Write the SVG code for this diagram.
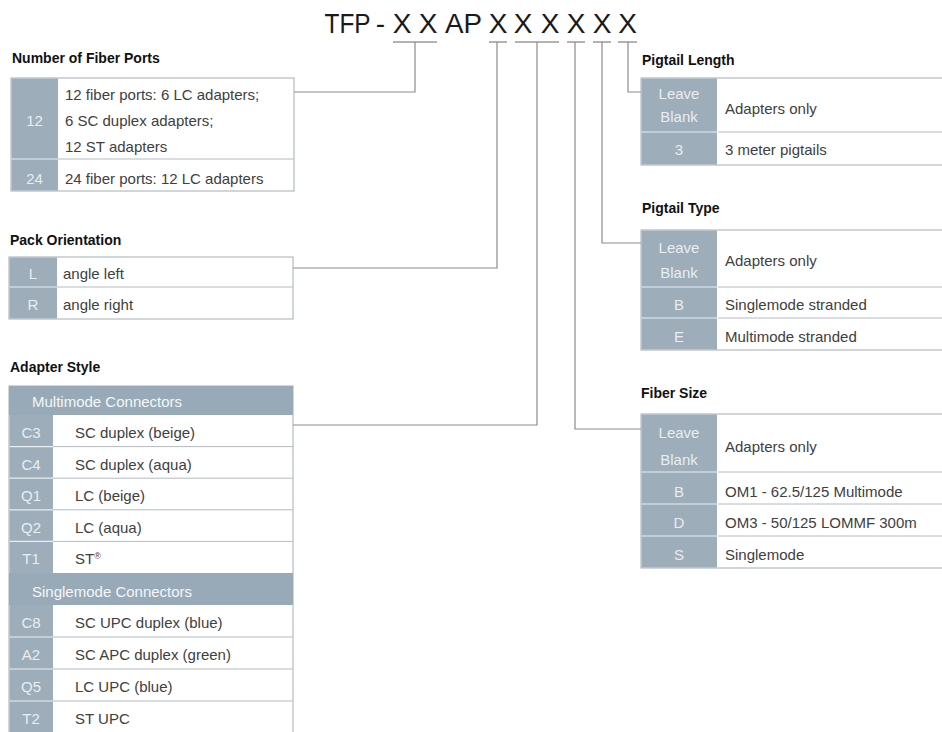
<svg xmlns="http://www.w3.org/2000/svg" width="942" height="732" viewBox="0 0 942 732">
<style>
text{font-family:"Liberation Sans",Arial,sans-serif}
.title{font-size:28px;fill:#1a1a1a;text-anchor:middle}
.h{font-size:14px;font-weight:bold;fill:#111}
.t{font-size:15px;fill:#404040}
.c{font-size:15px;fill:#e8eef2;text-anchor:middle}
.hd{font-size:15px;fill:#f4f7f9}
.box{fill:#fff;stroke:#a3adb5;stroke-width:1}
.code{fill:#9dadb9}
.hdr{fill:#98aab7}
.sepg{stroke:#b3bcc3;stroke-width:1}
.sepw{stroke:#e9eef1;stroke-width:1.2}
.con{fill:none;stroke:#8c8c8c;stroke-width:1.2}
.ul{stroke:#9a9a9a;stroke-width:1.5}
</style>

<g id="part-number">
<text class="title" x="347.5" y="33" textLength="46" lengthAdjust="spacingAndGlyphs">TFP</text>
<text class="title" x="380.5" y="33">-</text>
<text class="title" x="402" y="33">X</text>
<text class="title" x="428" y="33">X</text>
<text class="title" x="463.5" y="33" textLength="37" lengthAdjust="spacingAndGlyphs">AP</text>
<text class="title" x="498" y="33">X</text>
<text class="title" x="523" y="33">X</text>
<text class="title" x="550" y="33">X</text>
<text class="title" x="576" y="33">X</text>
<text class="title" x="602" y="33">X</text>
<text class="title" x="627.5" y="33">X</text>
<line class="ul" x1="393" y1="42" x2="437" y2="42"/>
<line class="ul" x1="489" y1="42" x2="507" y2="42"/>
<line class="ul" x1="515" y1="42" x2="559" y2="42"/>
<line class="ul" x1="567" y1="42" x2="585" y2="42"/>
<line class="ul" x1="593" y1="42" x2="611" y2="42"/>
<line class="ul" x1="618" y1="42" x2="637" y2="42"/>
</g>

<g id="connectors">
<polyline class="con" points="294,92 415,92 415,42"/>
<polyline class="con" points="293,268 497,268 497,42"/>
<polyline class="con" points="293,425 537,425 537,42"/>
<polyline class="con" points="575,42 575,429 641,429"/>
<polyline class="con" points="602,42 602,243 641,243"/>
<polyline class="con" points="628,42 628,92 641,92"/>
</g>

<g id="fiber-ports">
<text class="h" x="12" y="63">Number of Fiber Ports</text>
<rect class="box" x="11" y="78" width="283" height="113"/>
<rect class="code" x="11.5" y="78.5" width="46.5" height="112"/>
<line class="sepg" x1="58" y1="159" x2="294" y2="159"/>
<line class="sepw" x1="11.5" y1="159" x2="58" y2="159"/>
<text class="c" x="34.5" y="126">12</text>
<text class="t" x="65" y="100">12 fiber ports: 6 LC adapters;</text>
<text class="t" x="65" y="126">6 SC duplex adapters;</text>
<text class="t" x="65" y="152">12 ST adapters</text>
<text class="c" x="34.5" y="184">24</text>
<text class="t" x="65" y="184">24 fiber ports: 12 LC adapters</text>
</g>

<g id="pack-orientation">
<text class="h" x="10" y="245">Pack Orientation</text>
<rect class="box" x="9" y="257" width="284" height="62"/>
<rect class="code" x="9.5" y="257.5" width="47.5" height="61"/>
<line class="sepg" x1="57" y1="287" x2="293" y2="287"/>
<line class="sepw" x1="9.5" y1="287" x2="57" y2="287"/>
<text class="c" x="33" y="279">L</text>
<text class="t" x="63" y="279">angle left</text>
<text class="c" x="33" y="310">R</text>
<text class="t" x="63" y="310">angle right</text>
</g>

<g id="adapter-style">
<text class="h" x="10" y="372">Adapter Style</text>
<rect class="box" x="9" y="386" width="284" height="360"/>
<rect class="hdr" x="9" y="386" width="284" height="29"/>
<text class="hd" x="32" y="407">Multimode Connectors</text>
<rect class="code" x="9.5" y="415" width="43.5" height="158"/>
<line class="sepg" x1="53" y1="446.6" x2="293" y2="446.6"/>
<line class="sepg" x1="53" y1="478.2" x2="293" y2="478.2"/>
<line class="sepg" x1="53" y1="509.8" x2="293" y2="509.8"/>
<line class="sepg" x1="53" y1="541.4" x2="293" y2="541.4"/>
<line class="sepw" x1="9.5" y1="446.6" x2="53" y2="446.6"/>
<line class="sepw" x1="9.5" y1="478.2" x2="53" y2="478.2"/>
<line class="sepw" x1="9.5" y1="509.8" x2="53" y2="509.8"/>
<line class="sepw" x1="9.5" y1="541.4" x2="53" y2="541.4"/>
<text class="c" x="31" y="438">C3</text><text class="t" x="75" y="438">SC duplex (beige)</text>
<text class="c" x="31" y="470">C4</text><text class="t" x="75" y="470">SC duplex (aqua)</text>
<text class="c" x="31" y="501">Q1</text><text class="t" x="75" y="501">LC (beige)</text>
<text class="c" x="31" y="533">Q2</text><text class="t" x="75" y="533">LC (aqua)</text>
<text class="c" x="31" y="564">T1</text><text class="t" x="75" y="564">ST<tspan font-size="9" dy="-5">®</tspan></text>
<rect class="hdr" x="9" y="573" width="284" height="32"/>
<text class="hd" x="32" y="597">Singlemode Connectors</text>
<rect class="code" x="9.5" y="605" width="43.5" height="130"/>
<line class="sepg" x1="53" y1="637" x2="293" y2="637"/>
<line class="sepg" x1="53" y1="669" x2="293" y2="669"/>
<line class="sepg" x1="53" y1="701" x2="293" y2="701"/>
<line class="sepw" x1="9.5" y1="637" x2="53" y2="637"/>
<line class="sepw" x1="9.5" y1="669" x2="53" y2="669"/>
<line class="sepw" x1="9.5" y1="701" x2="53" y2="701"/>
<text class="c" x="31" y="628">C8</text><text class="t" x="75" y="628">SC UPC duplex (blue)</text>
<text class="c" x="31" y="660">A2</text><text class="t" x="75" y="660">SC APC duplex (green)</text>
<text class="c" x="31" y="692">Q5</text><text class="t" x="75" y="692">LC UPC (blue)</text>
<text class="c" x="31" y="724">T2</text><text class="t" x="75" y="724">ST UPC</text>
</g>

<g id="pigtail-length">
<text class="h" x="642" y="65">Pigtail Length</text>
<rect class="box" x="641" y="78" width="310" height="87"/>
<rect class="code" x="641.5" y="78.5" width="75.5" height="86"/>
<line class="sepg" x1="718" y1="132" x2="951" y2="132"/>
<line class="sepw" x1="641.5" y1="132" x2="717" y2="132"/>
<text class="c" x="679" y="99">Leave</text>
<text class="c" x="679" y="122">Blank</text>
<text class="t" x="725" y="114">Adapters only</text>
<text class="c" x="679" y="155">3</text>
<text class="t" x="725" y="155">3 meter pigtails</text>
</g>

<g id="pigtail-type">
<text class="h" x="642" y="213">Pigtail Type</text>
<rect class="box" x="641" y="230" width="310" height="120"/>
<rect class="code" x="641.5" y="230.5" width="75.5" height="119"/>
<line class="sepg" x1="718" y1="287" x2="951" y2="287"/>
<line class="sepg" x1="718" y1="318" x2="951" y2="318"/>
<line class="sepw" x1="641.5" y1="287" x2="717" y2="287"/>
<line class="sepw" x1="641.5" y1="318" x2="717" y2="318"/>
<text class="c" x="679" y="253">Leave</text>
<text class="c" x="679" y="278">Blank</text>
<text class="t" x="725" y="266">Adapters only</text>
<text class="c" x="679" y="310">B</text>
<text class="t" x="725" y="310">Singlemode stranded</text>
<text class="c" x="679" y="342">E</text>
<text class="t" x="725" y="342">Multimode stranded</text>
</g>

<g id="fiber-size">
<text class="h" x="641" y="398">Fiber Size</text>
<rect class="box" x="641" y="414" width="310" height="154"/>
<rect class="code" x="641.5" y="414.5" width="75.5" height="153"/>
<line class="sepg" x1="718" y1="472" x2="951" y2="472"/>
<line class="sepg" x1="718" y1="504" x2="951" y2="504"/>
<line class="sepg" x1="718" y1="536" x2="951" y2="536"/>
<line class="sepw" x1="641.5" y1="472" x2="717" y2="472"/>
<line class="sepw" x1="641.5" y1="504" x2="717" y2="504"/>
<line class="sepw" x1="641.5" y1="536" x2="717" y2="536"/>
<text class="c" x="679" y="438">Leave</text>
<text class="c" x="679" y="465">Blank</text>
<text class="t" x="725" y="452">Adapters only</text>
<text class="c" x="679" y="497">B</text>
<text class="t" x="725" y="497">OM1 - 62.5/125 Multimode</text>
<text class="c" x="679" y="528">D</text>
<text class="t" x="725" y="528">OM3 - 50/125 LOMMF 300m</text>
<text class="c" x="679" y="560">S</text>
<text class="t" x="725" y="560">Singlemode</text>
</g>
</svg>
